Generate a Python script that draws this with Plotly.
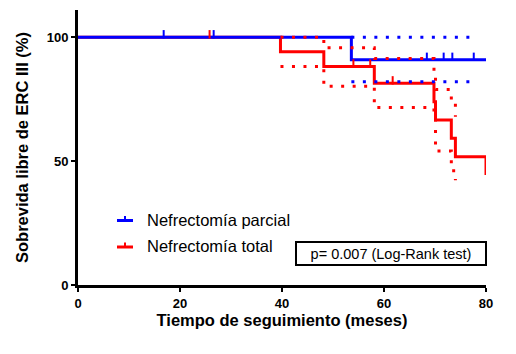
import plotly.graph_objects as go

# ---- data ----
parcial_t = [0, 53.6, 80]
parcial_s = [100, 90.9, 90.9]
parcial_cens_t = [16.8, 26.6, 68.4, 71.7, 73.4, 77.6]
parcial_cens_s = [100, 100, 90.9, 90.9, 90.9, 90.9]
parcial_up_t = [53.6, 77.6]
parcial_up_s = [100, 100]
parcial_lo_t = [53.6, 77.6]
parcial_lo_s = [82.0, 82.0]

total_t = [0, 39.7, 48.2, 58.1, 69.8, 70.1, 73.2, 74.0, 80.0]
total_s = [100, 94.1, 88.2, 81.4, 74.0, 66.6, 59.2, 51.8, 44.4]
total_cens_t = [25.8, 54.0, 57.3, 61.7]
total_cens_s = [100, 88.2, 88.2, 81.4]
total_up_t = [39.7, 48.2, 58.1, 69.8, 70.1, 73.2, 74.0]
total_up_s = [100, 95.8, 91.4, 86.0, 78.9, 74.0, 67.9]
total_lo_t = [39.7, 48.2, 58.1, 69.8, 70.1, 73.2, 74.0]
total_lo_s = [88.2, 80.2, 71.6, 69.0, 54.1, 46.1, 42.3]

group_names = ["Nefrectomía parcial", "Nefrectomía total"]
p_text = "p= 0.007 (Log-Rank test)"
x_ticks = [0, 20, 40, 60, 80]
y_ticks = [0, 50, 100]

BLUE = "#0000FF"
RED = "#FF0000"
FONT = "Liberation Sans, Arial, sans-serif"
DOT = "3px,8.5px"
TICK_LIFT = 1.2  # censor ticks drawn just above the curve (in % units)

# plot-area geometry (px)
L, R, T, B = 78, 30, 10, 69
W, H = 516, 354
PW, PH = W - L - R, H - T - B
def px_x(p):
    return (p - L) / PW
def px_y(p):
    return (H - B - p) / PH

fig = go.Figure()

def step(x, y, color, dash=None):
    fig.add_trace(go.Scatter(x=x, y=y, mode="lines",
                             line=dict(color=color, width=3, shape="hv", dash=dash),
                             showlegend=False, hoverinfo="skip"))

step(total_t, total_s, RED)
step(parcial_t, parcial_s, BLUE)
step(total_up_t, total_up_s, RED, DOT)
step(total_lo_t, total_lo_s, RED, DOT)
step(parcial_up_t, parcial_up_s, BLUE, DOT)
step(parcial_lo_t, parcial_lo_s, BLUE, DOT)

for ct, cs, col in [(total_cens_t, total_cens_s, RED), (parcial_cens_t, parcial_cens_s, BLUE)]:
    fig.add_trace(go.Scatter(x=ct, y=[v + TICK_LIFT for v in cs], mode="markers",
                             marker=dict(symbol="line-ns", size=6, line=dict(color=col, width=2)),
                             showlegend=False, hoverinfo="skip"))

# manual legend
for i, (name, col) in enumerate(zip(group_names, [BLUE, RED])):
    yc = 220.5 + 26.5 * i
    fig.add_shape(type="line", xref="paper", yref="paper",
                  x0=px_x(117), x1=px_x(133), y0=px_y(yc), y1=px_y(yc),
                  line=dict(color=col, width=3))
    fig.add_shape(type="line", xref="paper", yref="paper",
                  x0=px_x(125), x1=px_x(125), y0=px_y(yc), y1=px_y(yc - 4.5),
                  line=dict(color=col, width=2))
    fig.add_annotation(x=px_x(145), y=px_y(yc - 1), xref="paper", yref="paper", showarrow=False,
                       xanchor="left", yanchor="middle", text=name,
                       font=dict(family=FONT, size=16.5, color="black"))

fig.add_annotation(x=px_x(391), y=px_y(253.5), xref="paper", yref="paper", showarrow=False,
                   xanchor="center", yanchor="middle",
                   text=p_text, font=dict(family=FONT, size=14.5, color="black"),
                   bordercolor="black", borderwidth=2, borderpad=0, width=188, height=21,
                   bgcolor="white")

fig.update_layout(
    width=W, height=H,
    margin=dict(l=L, r=R, t=T, b=B),
    plot_bgcolor="white", paper_bgcolor="white",
    font=dict(family=FONT, color="black"),
    showlegend=False,
    xaxis=dict(range=[0, 80], tickvals=x_ticks, showline=True, linecolor="black", linewidth=3,
               ticks="outside", ticklen=4, tickwidth=2, tickcolor="black", showgrid=False, zeroline=False,
               tickfont=dict(family=FONT, size=13, color="black", weight="bold"),
               title=dict(text="<b>Tiempo de seguimiento (meses)</b>", font=dict(family=FONT, size=16.5), standoff=3)),
    yaxis=dict(range=[0, 111], tickvals=y_ticks, showline=True, linecolor="black", linewidth=3,
               ticks="outside", ticklen=4, tickwidth=2, tickcolor="black", showgrid=False, zeroline=False,
               tickfont=dict(family=FONT, size=13, color="black", weight="bold"),
               title=dict(text="<b>Sobrevida libre de ERC III (%)</b>", font=dict(family=FONT, size=16.5), standoff=14)),
)

fig.write_html("out.html")
